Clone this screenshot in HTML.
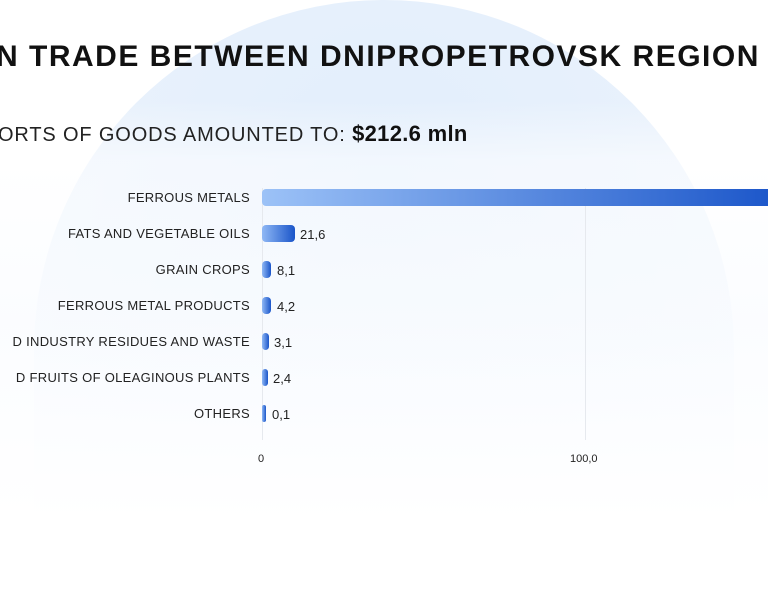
<!DOCTYPE html>
<html><head><style>
html,body{margin:0;padding:0;width:768px;height:592px;overflow:hidden}
body{background:#fff;font-family:"Liberation Sans",sans-serif}
#w{position:relative;width:768px;height:592px;overflow:hidden}
.bg{position:absolute;left:34px;top:0;width:700px;height:592px;border-radius:350px 350px 0 0;background:radial-gradient(circle at 50% 30%,#e2eefc 0%,#e8f1fc 50%,#eef4fd 80%);}
.card{position:absolute;left:0;top:100px;width:768px;height:492px;background:linear-gradient(rgba(255,255,255,0) 0px,rgba(255,255,255,0.55) 60px,rgba(250,252,255,0.85) 220px,#fff 420px)}
.t{position:absolute;white-space:nowrap;color:#111}
.lab{position:absolute;right:518px;font-size:13px;color:#222;letter-spacing:.3px;white-space:nowrap}
.bar{position:absolute;left:262px;height:17px;border-radius:4px;background:linear-gradient(90deg,#8fb8f5,#1a55c9)}
.val{position:absolute;font-size:13px;color:#222}
.grid{position:absolute;top:188px;height:252px;width:1px;background:#e6e9ee}
</style></head><body><div id="w">
<div class="bg"></div>
<div class="card"></div>
<div class="t" style="left:-4px;top:40px;font-size:30px;font-weight:bold;letter-spacing:1.5px">N TRADE BETWEEN DNIPROPETROVSK REGION</div>
<div class="t" style="left:-2px;top:121px;font-size:20px;letter-spacing:.85px;color:#222">ORTS OF GOODS AMOUNTED TO: <b style="font-size:22px;color:#111;letter-spacing:.3px">$212.6 mln</b></div>
<div class="grid" style="left:262px"></div>
<div class="grid" style="left:585px"></div>
<div class="lab" style="top:190px">FERROUS METALS</div>
<div class="bar" style="top:189px;width:520px;background:linear-gradient(90deg,#9cc2f7,#1a55c9)"></div>
<div class="lab" style="top:226px">FATS AND VEGETABLE OILS</div>
<div class="bar" style="top:225px;width:33px"></div><div class="val" style="left:300px;top:227px">21,6</div>
<div class="lab" style="top:262px">GRAIN CROPS</div>
<div class="bar" style="top:261px;width:9px"></div><div class="val" style="left:277px;top:263px">8,1</div>
<div class="lab" style="top:298px">FERROUS METAL PRODUCTS</div>
<div class="bar" style="top:297px;width:9px"></div><div class="val" style="left:277px;top:299px">4,2</div>
<div class="lab" style="top:334px">D INDUSTRY RESIDUES AND WASTE</div>
<div class="bar" style="top:333px;width:7px"></div><div class="val" style="left:274px;top:335px">3,1</div>
<div class="lab" style="top:370px">D FRUITS OF OLEAGINOUS PLANTS</div>
<div class="bar" style="top:369px;width:6px"></div><div class="val" style="left:273px;top:371px">2,4</div>
<div class="lab" style="top:406px">OTHERS</div>
<div class="bar" style="top:405px;width:4px"></div><div class="val" style="left:272px;top:407px">0,1</div>
<div class="val" style="left:258px;top:453px;font-size:11px">0</div>
<div class="val" style="left:570px;top:453px;font-size:11px">100,0</div>
</div></body></html>
